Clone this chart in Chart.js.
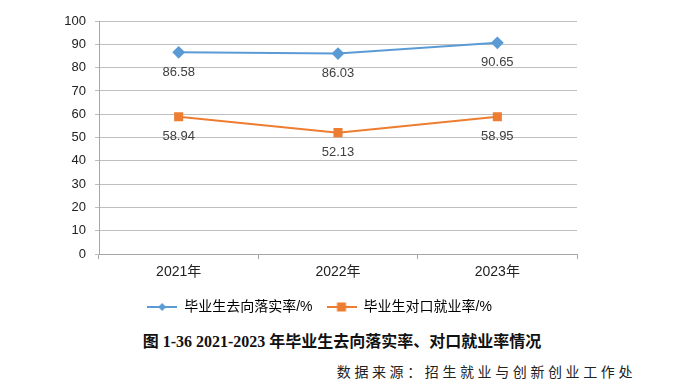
<!DOCTYPE html>
<html>
<head>
<meta charset="utf-8">
<script src="https://cdn.jsdelivr.net/npm/chart.js@4.4.1/dist/chart.umd.min.js"></script>
<style>
  body { margin: 0; background: #fff; }
  #wrap { position: relative; width: 684px; height: 387px; }
  #box { position: absolute; left: 0; top: 0; width: 684px; height: 324px; }
  #caption { position: absolute; left: 0; width: 684px; top: 328px; text-align: center;
    font-family: "Liberation Serif", "Noto Sans CJK SC", serif; font-size: 16px; color: #111; font-weight: 600; }
  #source { position: absolute; right: 48px; top: 361px; letter-spacing: 3.6px;
    font-family: "Noto Sans CJK SC", serif; font-size: 14px; color: #222; }
</style>
</head>
<body>
<div id="wrap">
  <div id="box"><canvas id="chart" width="684" height="324"></canvas></div>
  <div id="caption">图 1-36 2021-2023 年毕业生去向落实率、对口就业率情况</div>
  <div id="source">数据来源：招生就业与创新创业工作处</div>
</div>
<script>
var years = ["2021年", "2022年", "2023年"];
var placementRate = [86.58, 86.03, 90.65];
var matchRate = [58.94, 52.13, 58.95];
var seriesNames = ["毕业生去向落实率/%", "毕业生对口就业率/%"];
var seriesColors = ["#5B9BD5", "#ED7D31"];
var fontFam = "'Liberation Sans', 'Noto Sans CJK SC', sans-serif";

// legend icon: short line with the marker on it
function legendIcon(color, style) {
    var c = document.createElement("canvas");
    c.width = 30; c.height = 12;
    var g = c.getContext("2d");
    g.strokeStyle = color; g.lineWidth = 2;
    g.beginPath(); g.moveTo(0, 6); g.lineTo(30, 6); g.stroke();
    g.fillStyle = color;
    if (style === "rectRot") {
        g.beginPath(); g.moveTo(15, 2); g.lineTo(19, 6); g.lineTo(15, 10); g.lineTo(11, 6); g.closePath(); g.fill();
    } else {
        g.fillRect(10.5, 1.5, 9, 9);
    }
    return c;
}

var valueLabels = {
    id: "valueLabels",
    afterDatasetsDraw: function (chart) {
        var ctx = chart.ctx;
        ctx.save();
        ctx.font = "13px " + fontFam;
        ctx.fillStyle = "#404040";
        ctx.textAlign = "center";
        ctx.textBaseline = "middle";
        chart.data.datasets.forEach(function (ds, i) {
            chart.getDatasetMeta(i).data.forEach(function (pt, j) {
                ctx.fillText(ds.data[j].toFixed(2), pt.x, pt.y + 20);
            });
        });
        ctx.restore();
    }
};

// legend in the original sits a bit right of the centre
var shiftLegend = {
    id: "shiftLegend",
    afterLayout: function (chart) {
        chart.legend.left += 31;
        chart.legend.right += 31;
    }
};

new Chart(document.getElementById("chart"), {
    type: "line",
    data: {
        labels: years,
        datasets: [{
            label: seriesNames[0],
            data: placementRate,
            borderColor: seriesColors[0],
            backgroundColor: seriesColors[0],
            borderWidth: 2,
            pointStyle: "rectRot",
            pointRadius: 5,
            pointHoverRadius: 5,
            tension: 0
        }, {
            label: seriesNames[1],
            data: matchRate,
            borderColor: seriesColors[1],
            backgroundColor: seriesColors[1],
            borderWidth: 2,
            pointStyle: "rect",
            pointRadius: 5,
            pointHoverRadius: 5,
            tension: 0
        }]
    },
    options: {
        responsive: false,
        animation: false,
        layout: { padding: { left: 0, right: 107, top: 21, bottom: 0 } },
        plugins: {
            tooltip: { enabled: false },
            legend: {
                position: "bottom",
                labels: {
                    usePointStyle: true,
                    pointStyleWidth: 30,
                    padding: 14,
                    color: "#222",
                    font: { size: 14, family: fontFam },
                    generateLabels: function (chart) {
                        return chart.data.datasets.map(function (ds, i) {
                            return {
                                text: ds.label,
                                pointStyle: legendIcon(ds.borderColor, ds.pointStyle),
                                fillStyle: ds.borderColor,
                                strokeStyle: ds.borderColor,
                                lineWidth: 0,
                                datasetIndex: i,
                                hidden: false
                            };
                        });
                    }
                }
            }
        },
        scales: {
            x: {
                offset: true,
                grid: { offset: true, drawOnChartArea: false, drawTicks: true, tickLength: 5, color: "#A6A6A6" },
                border: { color: "#A6A6A6", width: 1 },
                ticks: { color: "#222", font: { size: 14, family: fontFam }, padding: 5 }
            },
            y: {
                min: 0,
                max: 100,
                afterFit: function (scale) { scale.width = 99; },
                grid: { color: "#BFBFBF", tickLength: 4 },
                border: { color: "#A6A6A6", width: 1 },
                ticks: { stepSize: 10, color: "#222", font: { size: 13, family: fontFam }, padding: 9 }
            }
        }
    },
    plugins: [valueLabels, shiftLegend]
});
</script>
</body>
</html>
